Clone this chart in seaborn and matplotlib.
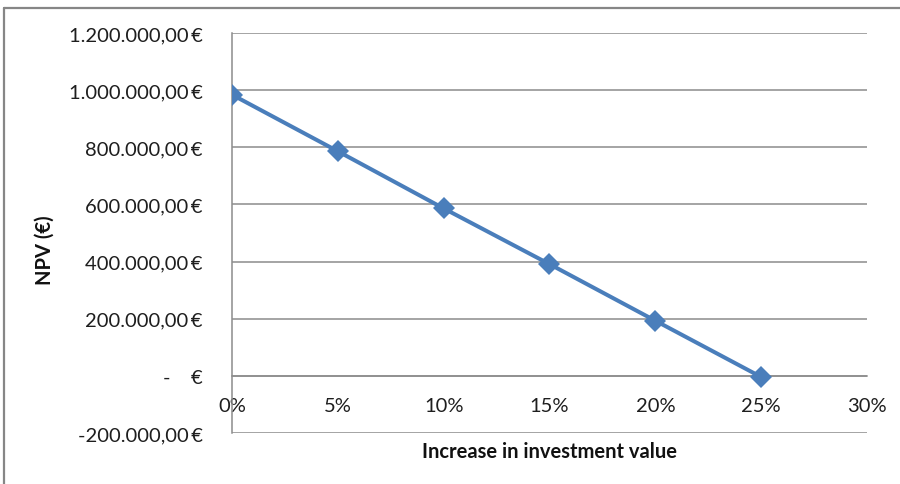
import matplotlib
matplotlib.use("Agg")
import matplotlib.pyplot as plt
from matplotlib.lines import Line2D
from matplotlib.ticker import FuncFormatter, MultipleLocator
import seaborn as sns
import pandas as pd

# NPV sensitivity to an increase in investment value
increase_pct = [0, 5, 10, 15, 20, 25]
npv_eur = [984000, 786000, 586000, 391000, 193000, -4000]

x_label = "Increase in investment value"
y_label = "NPV (€)"

sns.set_theme(style="white")
plt.rcParams["font.family"] = ["Lato", "DejaVu Sans"]

df = pd.DataFrame({"increase": increase_pct, "npv": npv_eur})

fig = plt.figure(figsize=(9, 4.85), dpi=100)
ax = fig.add_axes([0.2578, 0.1052, 0.7055, 0.8247])

sns.lineplot(data=df, x="increase", y="npv", ax=ax, color="#4A7EBB",
             linewidth=2.9, marker="D", markersize=11, markeredgewidth=0,
             zorder=3)

ax.set_xlim(0, 30)
ax.set_ylim(-200000, 1200000)
ax.xaxis.set_major_locator(MultipleLocator(5))
ax.yaxis.set_major_locator(MultipleLocator(200000))


def euro(v, pos=None):
    if abs(v) < 1e-6:
        return "-    €"
    s = f"{v:,.2f}".replace(",", "X").replace(".", ",").replace("X", ".")
    return s + "\u2009€"


ax.yaxis.set_major_formatter(FuncFormatter(euro))
ax.xaxis.set_major_formatter(FuncFormatter(lambda v, p: f"{v:.0f}%"))

grid_col = "#8C8C8C"
ax.grid(axis="y", color=grid_col, linewidth=1.1)
ax.grid(axis="x", visible=False)
for side in ("top", "right"):
    ax.spines[side].set_visible(False)
ax.spines["left"].set_color(grid_col)
ax.spines["left"].set_linewidth(1.1)
ax.spines["bottom"].set_position(("data", 0))
ax.spines["bottom"].set_color(grid_col)
ax.spines["bottom"].set_linewidth(1.1)

ax.tick_params(axis="y", length=0, pad=21, labelsize=14.5, labelcolor="#1E1E1E")
ax.tick_params(axis="x", length=0, pad=15, labelsize=14.5, labelcolor="#1E1E1E")

ax.set_xlabel("")
ax.set_ylabel("")
fig.text(0.61, 0.068, x_label, ha="center", va="center",
         fontsize=14.5, fontweight="bold", color="#111111")
fig.text(0.05, 0.485, y_label, ha="center", va="center", rotation=90,
         fontsize=14.5, fontweight="bold", color="#111111")

# chart-area frame
frame_col = "#868686"
fig.add_artist(Line2D([4 / 900, 4 / 900], [0, 1 - 9 / 485],
                      transform=fig.transFigure, color=frame_col, linewidth=1.6))
fig.add_artist(Line2D([4 / 900, 1], [1 - 9 / 485, 1 - 9 / 485],
                      transform=fig.transFigure, color=frame_col, linewidth=1.6))

fig.savefig("out.png", dpi=100, facecolor="white")
